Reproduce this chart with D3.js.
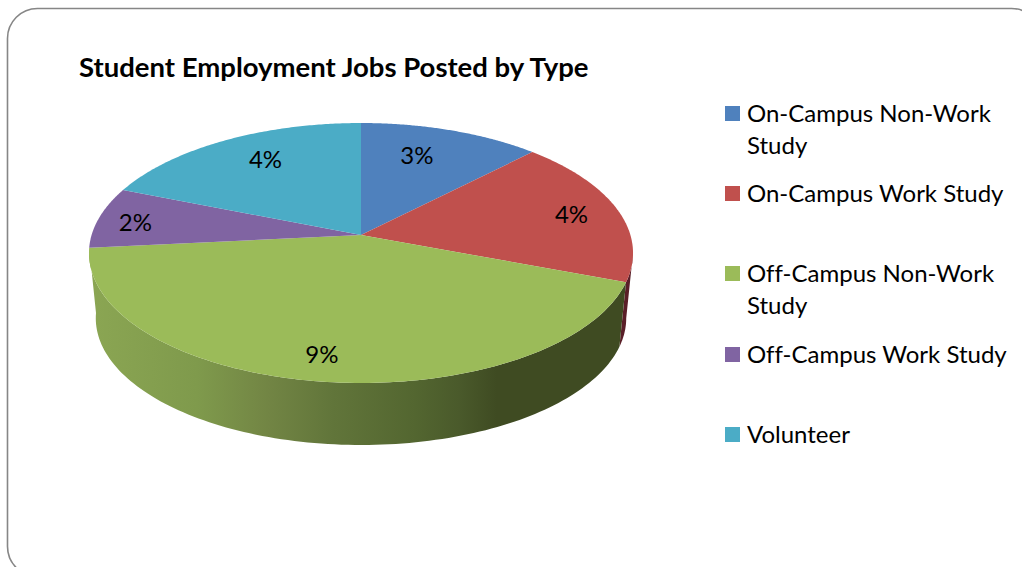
<!DOCTYPE html>
<html>
<head>
<meta charset="utf-8">
<script src="https://cdn.jsdelivr.net/npm/d3@7/dist/d3.min.js"></script>
<style>html,body{margin:0;padding:0;background:#fff;overflow:hidden}svg{display:block}text{font-family:Lato,"Open Sans",sans-serif;fill:#000;font-variant-ligatures:none}</style>
</head>
<body>
<script>
const titleText = "Student Employment Jobs Posted by Type";
const categories = ["On-Campus Non-Work Study","On-Campus Work Study","Off-Campus Non-Work Study","Off-Campus Work Study","Volunteer"];
const values = [2.71,4.05,9.39,1.67,4.17];
const colors = ["#4f81bd","#c0504d","#9bbb59","#8064a2","#4bacc6"];

const W=1022,H=567;
const svg=d3.select("body").append("svg").attr("width",W).attr("height",H);
const defs=svg.append("defs");

svg.append("rect").attr("x",7.5).attr("y",8.5).attr("width",1034).attr("height",568).attr("rx",30).attr("ry",30)
  .attr("fill","#fff").attr("stroke","#868686").attr("stroke-width",1.6);

// tilted pie projection
const cx=361,cy=235,k=-0.1385,A=269.4,B=127.5,shrink=0.975;
const cy2=445-148*shrink;
const topPt=(t,f=1)=>{const u=Math.sin(t)*f,v=-Math.cos(t)*f,d=1+k*v;return [cx+A*u/d,cy+B*v/d];};
const botPt=(t)=>{const u=Math.sin(t),v=-Math.cos(t),d=1+k*v;return [cx+shrink*A*u/d,cy2+shrink*B*v/d];};
const arcs=d3.pie().sort(null).value(d=>d)(values);
const sweep=(a,b,fn)=>d3.range(0,121).map(i=>fn(a+(b-a)*i/120));
const line=d3.line();

// side wall
const grad=defs.append("linearGradient").attr("id","wallGreen").attr("gradientUnits","userSpaceOnUse")
  .attr("x1",88).attr("x2",633).attr("y1",0).attr("y2",0);
[[0,"#8ba653"],[0.2,"#7f9a4c"],[0.33,"#728544"],[0.45,"#61753a"],[0.6,"#536630"],[0.68,"#4a5a2b"],[0.75,"#3f4b22"],[1,"#3f4b22"]]
  .forEach(([o,c])=>grad.append("stop").attr("offset",o).attr("stop-color",c));

const tangent=Math.acos(k);           // where the outline turns away from the viewer
const wall=(a,b)=>line([...sweep(a,b,topPt),...sweep(a,b,botPt).reverse()])+"Z";
const redArc=arcs[1],greenArc=arcs[2];
svg.append("path").attr("d",wall(tangent,redArc.endAngle)).attr("fill","#5a1f28");
svg.append("path").attr("d",wall(greenArc.startAngle,greenArc.endAngle)).attr("fill","url(#wallGreen)");

// top face
svg.append("g").selectAll("path").data(arcs).join("path")
  .attr("d",d=>line([[cx,cy],...sweep(d.startAngle,d.endAngle,topPt)])+"Z")
  .attr("fill",(d,i)=>colors[i]);

// data labels
const labelReach=[0.66,0.8,0.83,0.86,0.72];
const labelNudge=[[-6,-7],[5,2],[-6,2],[0,3],[5,-5]];
svg.append("g").selectAll("text").data(arcs).join("text")
  .attr("x",(d,i)=>topPt((d.startAngle+d.endAngle)/2,labelReach[i])[0]+labelNudge[i][0])
  .attr("y",(d,i)=>topPt((d.startAngle+d.endAngle)/2,labelReach[i])[1]+8+labelNudge[i][1])
  .attr("text-anchor","middle").attr("font-size",24)
  .text(d=>Math.round(d.value)+"%");

// title
svg.append("text").attr("x",79).attr("y",77).attr("font-size",27.5).attr("font-weight",700).text(titleText);

// legend
const legendLines=[["On-Campus Non-Work","Study"],["On-Campus Work Study"],["Off-Campus Non-Work","Study"],["Off-Campus Work Study"],["Volunteer"]];
const legendBase=[122,202,282,363,443];
const lg=svg.append("g").selectAll("g").data(categories).join("g");
lg.append("rect").attr("x",725).attr("y",(d,i)=>legendBase[i]-16).attr("width",15).attr("height",15).attr("fill",(d,i)=>colors[i]);
lg.each(function(d,i){
  const g=d3.select(this);
  legendLines[i].forEach((t,j)=>g.append("text").attr("x",747).attr("y",legendBase[i]+j*32).attr("font-size",24).text(t));
});
</script>
</body>
</html>
